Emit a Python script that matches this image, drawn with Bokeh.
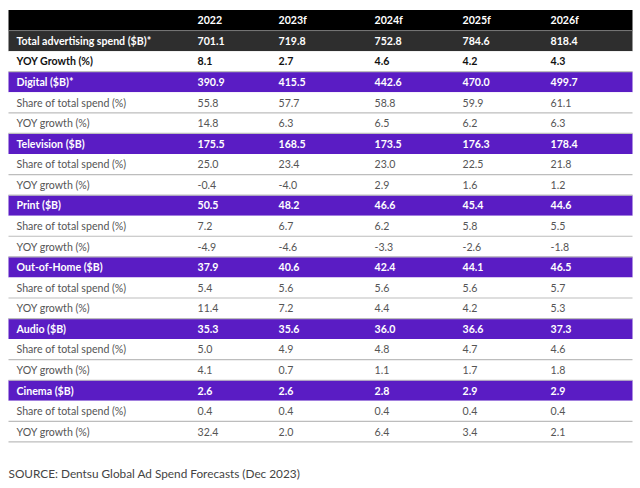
from bokeh.plotting import figure
from bokeh.models import Range1d, ColumnDataSource
from bokeh.core.properties import value
from bokeh.embed import file_html
from bokeh.resources import INLINE

years = ["2022", "2023f", "2024f", "2025f", "2026f"]
total_label = "Total advertising spend ($B)*"
total_spend = [701.1, 719.8, 752.8, 784.6, 818.4]
total_growth_label = "YOY Growth (%)"
total_growth = [8.1, 2.7, 4.6, 4.2, 4.3]
media = ["Digital ($B)*", "Television ($B)", "Print ($B)", "Out-of-Home ($B)", "Audio ($B)", "Cinema ($B)"]
spend = [
    [390.9, 415.5, 442.6, 470.0, 499.7],
    [175.5, 168.5, 173.5, 176.3, 178.4],
    [50.5, 48.2, 46.6, 45.4, 44.6],
    [37.9, 40.6, 42.4, 44.1, 46.5],
    [35.3, 35.6, 36.0, 36.6, 37.3],
    [2.6, 2.6, 2.8, 2.9, 2.9],
]
share = [
    [55.8, 57.7, 58.8, 59.9, 61.1],
    [25.0, 23.4, 23.0, 22.5, 21.8],
    [7.2, 6.7, 6.2, 5.8, 5.5],
    [5.4, 5.6, 5.6, 5.6, 5.7],
    [5.0, 4.9, 4.8, 4.7, 4.6],
    [0.4, 0.4, 0.4, 0.4, 0.4],
]
growth = [
    [14.8, 6.3, 6.5, 6.2, 6.3],
    [-0.4, -4.0, 2.9, 1.6, 1.2],
    [-4.9, -4.6, -3.3, -2.6, -1.8],
    [11.4, 7.2, 4.4, 4.2, 5.3],
    [4.1, 0.7, 1.1, 1.7, 1.8],
    [32.4, 2.0, 6.4, 3.4, 2.1],
]
share_label = "Share of total spend (%)"
growth_label = "YOY growth (%)"
source_note = "SOURCE: Dentsu Global Ad Spend Forecasts (Dec 2023)"

# ---- styles / layout ----
W, H = 640, 488
TOP, RH = 9.5, 20.57
LEFT, RIGHT = 8, 632
PURPLE = "#5a1cc4"
FONT = "Lato"
LABEL_X = 16
COL_X = [197, 278, 374, 462, 550]

rows = []  # (label, values(strings), bg, text color, bold, kind)
rows.append(("", years, "#000000", "white", True, "head"))
rows.append((total_label, [f"{v:.1f}" for v in total_spend], "#2e2e2e", "white", True, "total"))
rows.append((total_growth_label, [f"{v:.1f}" for v in total_growth], "white", "#111111", True, "tg"))
for m, s, sh, g in zip(media, spend, share, growth):
    rows.append((m, [f"{v:.1f}" for v in s], PURPLE, "white", True, "cat"))
    rows.append((share_label, [f"{v:.1f}" for v in sh], "white", "#555555", False, "share"))
    rows.append((growth_label, [f"{v:.1f}" for v in g], "white", "#555555", False, "growth"))

n = len(rows)
p = figure(width=W, height=H, output_backend="svg", toolbar_location=None,
           x_range=Range1d(0, W),
           y_range=Range1d(start=(H - TOP) / RH - 0.5, end=-TOP / RH - 0.5),
           min_border=0)
p.axis.visible = False
p.grid.visible = False
p.outline_line_color = None
p.background_fill_color = "white"
p.border_fill_color = "white"

idx = list(range(n))
bg = ColumnDataSource(dict(y=idx, c=[r[2] for r in rows]))
p.hbar(y="y", left=LEFT, right=RIGHT, height=1, fill_color="c", line_color=None, source=bg)

# separators below white rows
sep_y = [i + 0.5 for i, r in enumerate(rows) if r[5] in ("share", "growth", "tg")]
p.segment(x0=LEFT, x1=RIGHT, y0=sep_y, y1=sep_y, line_color="#bdbdbd", line_width=1.2)
p.segment(x0=LEFT, x1=RIGHT, y0=[0.5], y1=[0.5], line_color="#777777", line_width=1)

for bold in (True, False):
    xs, ys, ts, cs = [], [], [], []
    for i, r in enumerate(rows):
        if r[4] != bold:
            continue
        if r[0]:
            xs.append(LABEL_X); ys.append(i); ts.append(r[0]); cs.append(r[3])
        for cx, t in zip(COL_X, r[1]):
            xs.append(cx); ys.append(i); ts.append(t); cs.append(r[3])
    src = ColumnDataSource(dict(x=xs, y=ys, t=ts, c=cs))
    p.text(x="x", y="y", text="t", text_color="c", source=src,
           text_font=value(FONT), text_font_size="10.6px",
           text_font_style="bold" if bold else "normal",
           text_align="left", text_baseline="middle")

p.text(x=[LEFT], y=[(473 - TOP) / RH - 0.5], text=[source_note], text_color="#444444",
       text_font=value(FONT), text_font_size="11.8px", text_align="left", text_baseline="middle")

open("out.html", "w").write(file_html(p, INLINE))
